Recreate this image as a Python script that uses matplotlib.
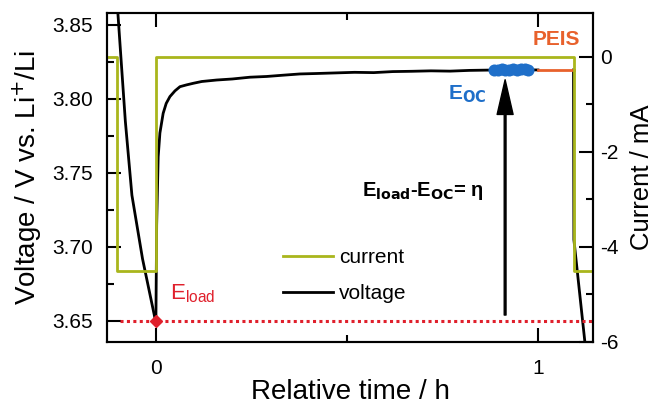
import matplotlib
matplotlib.use("Agg")
from matplotlib import pyplot as plt
from matplotlib.ticker import MultipleLocator
import numpy as np

plt.rcParams['font.family'] = ['Liberation Sans', 'DejaVu Sans']
plt.rcParams['axes.unicode_minus'] = False

# voltage under load before the rest (h, V)
load_t = [-0.0995, -0.0942, -0.080, -0.0628, -0.035, -0.0026, 0.0]
load_v = [3.858, 3.838, 3.785, 3.735, 3.692, 3.652, 3.650]

# relaxation after the current is switched off
rest_t = [0.0, 0.002, 0.006, 0.0105, 0.019, 0.027, 0.0367, 0.05, 0.063, 0.08, 0.098,
          0.12, 0.159, 0.20, 0.246, 0.29, 0.33, 0.377, 0.42, 0.47, 0.52, 0.57,
          0.62, 0.67, 0.72, 0.77, 0.82, 0.87, 0.90, 0.95, 1.0]
rest_v = [3.650, 3.715, 3.761, 3.777, 3.7903, 3.797, 3.8016, 3.8055, 3.8083, 3.8095, 3.8106,
          3.8118, 3.8128, 3.8135, 3.8147, 3.8152, 3.8160, 3.8169, 3.8172, 3.8176, 3.8180, 3.8178,
          3.8185, 3.8187, 3.8190, 3.8188, 3.8193, 3.8195, 3.8196, 3.8197, 3.8196]

# OCV points marked as E_OC
eoc_t = [0.885, 0.895, 0.905, 0.915, 0.925, 0.935, 0.945, 0.955, 0.965, 0.975]
eoc_v = [3.8194, 3.8198, 3.8200, 3.8195, 3.8199, 3.8201, 3.8197, 3.8200, 3.8202, 3.8198]

# PEIS segment
peis_t = [1.0, 1.093]
peis_v = [3.8196, 3.8196]

# next load step
next_t = [1.093, 1.094, 1.126]
next_v = [3.8196, 3.705, 3.628]

# applied current (mA)
cur_t = [-0.2, -0.103, -0.103, 0.0, 0.0, 1.093, 1.093, 1.2]
cur_i = [0, 0, -4.5, -4.5, 0, 0, -4.5, -4.5]

e_load = 3.65
arrow_t = 0.914

green = '#a9b61c'
red = '#e0202c'
blue = '#1f6fc9'
orange = '#e8612c'

fig = plt.figure(figsize=(6.52, 4.08), dpi=100)
ax = fig.add_axes([0.1641, 0.1618, 0.7454, 0.8064])
ax2 = ax.twinx()

lw = 2
ax.plot(load_t, load_v, color='k', lw=lw)
ax.plot(rest_t, rest_v, color='k', lw=lw)
ax.plot(next_t, next_v, color='k', lw=lw)
ax.plot(peis_t, peis_v, color=orange, lw=lw)
ax.scatter(eoc_t, eoc_v, s=75, color=blue, zorder=4, linewidths=0)
ax.plot([-0.094, 1.2], [e_load, e_load], color=red, lw=2.2, ls=(0, (1, 1.1)))
ax.plot([0], [e_load], marker='D', color=red, ms=6, zorder=5)

ax.annotate('', xy=(arrow_t, 3.813), xytext=(arrow_t, 3.654),
            arrowprops=dict(width=1.3, headwidth=11.5, headlength=25, color='k'))

ax.text(0.038, 3.6645, r'E$_{\mathregular{load}}$', color=red, fontsize=16)
ax.text(0.764, 3.7995, r'E$_{\mathbf{OC}}$', color=blue, fontsize=15, fontweight='bold')
ax.text(1.047, 3.8399, 'PEIS', color=orange, fontsize=15, fontweight='bold',
        ha='center', va='center')
ax.text(0.539, 3.7345, r'E$_{\mathbf{load}}$-E$_{\mathbf{OC}}$= $\mathregular{\eta}$',
        fontsize=14.5, fontweight='bold')

ax2.plot(cur_t, cur_i, color=green, lw=lw)

ax.set_xlim(-0.128, 1.144)
ax.set_ylim(3.6358, 3.8581)
ax2.set_ylim(-6, 0.926)

ax.xaxis.set_major_locator(MultipleLocator(1))
ax.xaxis.set_minor_locator(MultipleLocator(0.5))
ax.yaxis.set_major_locator(MultipleLocator(0.05))
ax.yaxis.set_minor_locator(MultipleLocator(0.025))
ax.yaxis.set_major_formatter(plt.FormatStrFormatter('%.2f'))
ax2.yaxis.set_major_locator(MultipleLocator(2))
ax2.yaxis.set_minor_locator(MultipleLocator(1))

ax.tick_params(which='both', direction='in', top=True, right=False, width=1.5,
               labelsize=15)
ax.tick_params(which='major', length=10)
ax.tick_params(which='minor', length=5)
ax.tick_params(axis='y', pad=10)
ax.tick_params(axis='x', pad=12)
ax2.tick_params(which='both', direction='in', width=1.5, labelsize=15, pad=5)
ax2.tick_params(which='major', length=10)
ax2.tick_params(which='minor', length=5)
for a in (ax, ax2):
    for s in a.spines.values():
        s.set_linewidth(1.5)

ax.set_xlabel('Relative time / h', fontsize=20, labelpad=1)
ax.set_ylabel(r'Voltage / V vs. Li$^{+}$/Li', fontsize=20, labelpad=6)
ax2.set_ylabel('Current / mA', fontsize=18.5, labelpad=8)

h1 = plt.Line2D([], [], color=green, lw=lw)
h2 = plt.Line2D([], [], color='k', lw=lw)
ax2.legend([h1, h2], ['current', 'voltage'], loc='upper left',
           bbox_to_anchor=(0.362, 0.285), frameon=False, fontsize=15,
           borderpad=0, borderaxespad=0, handlelength=2.4, handletextpad=0.3,
           labelspacing=0.8)

fig.savefig('out.png', dpi=100)
